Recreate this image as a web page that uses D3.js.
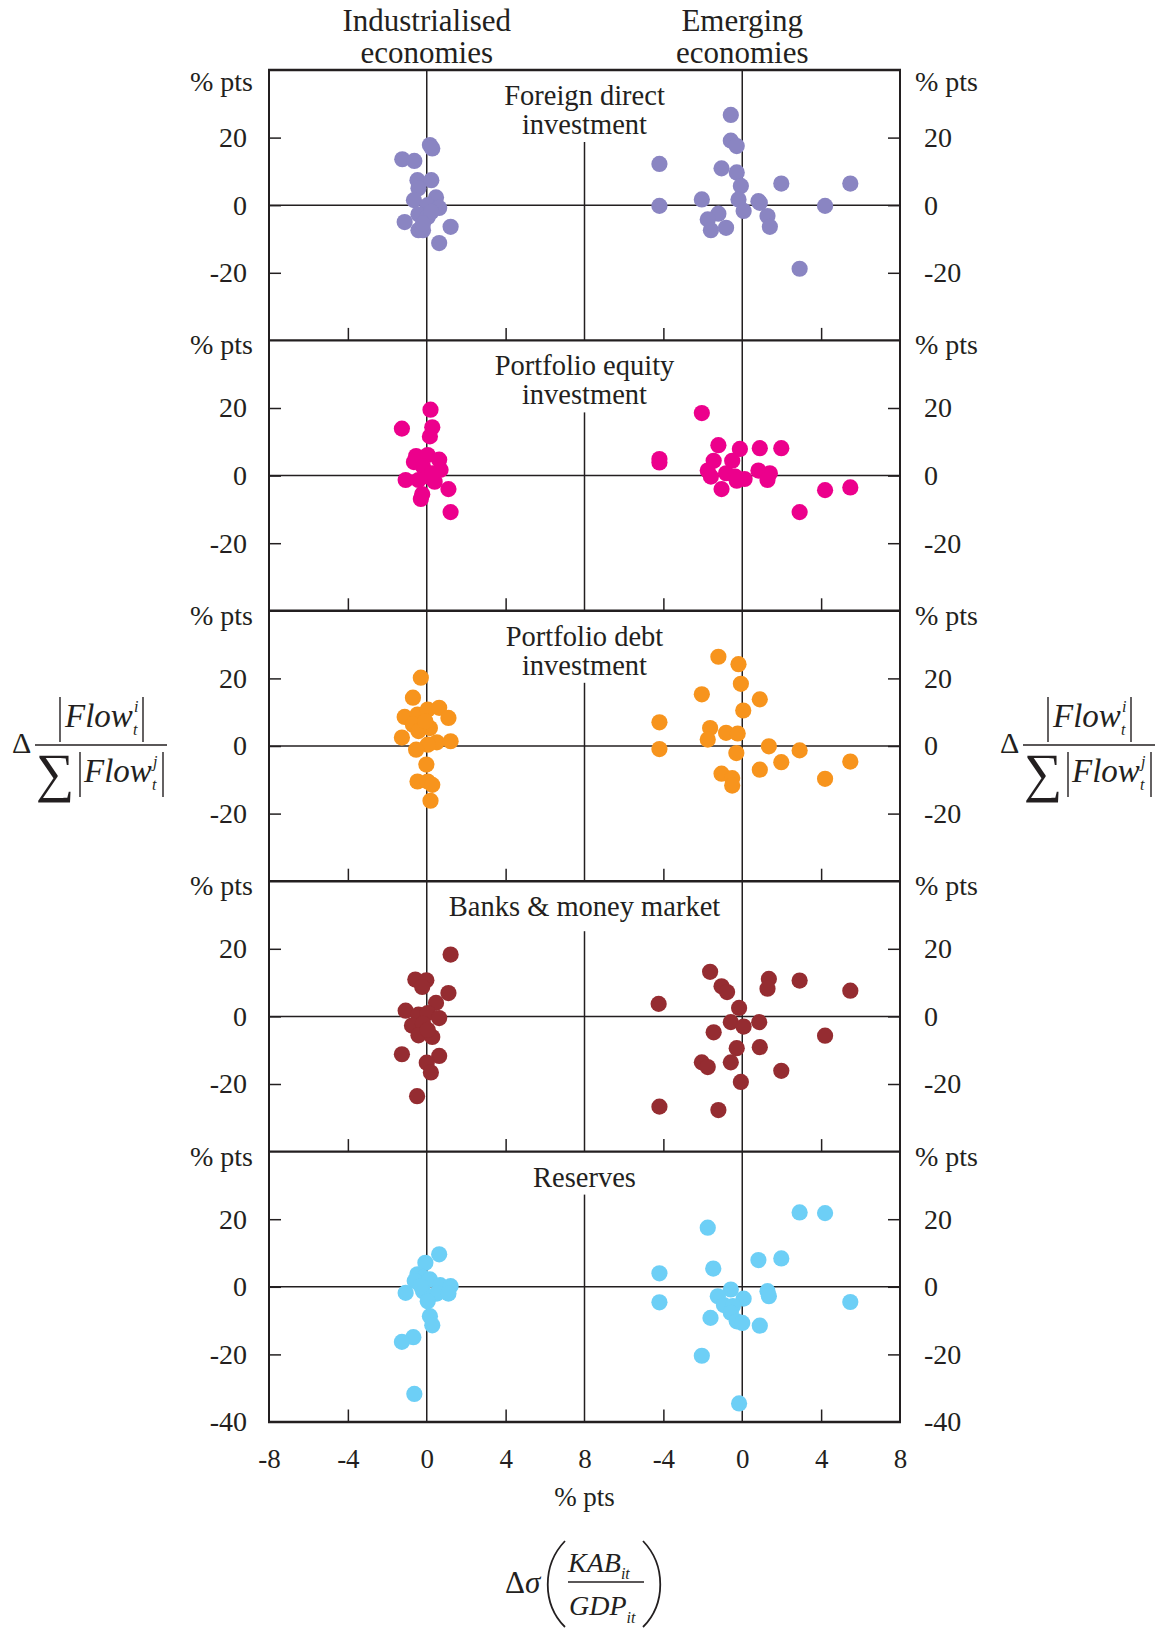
<!DOCTYPE html>
<html>
<head>
<meta charset="utf-8">
<script src="https://cdn.jsdelivr.net/npm/d3@7"></script>
<style>
  html, body { margin: 0; padding: 0; background: #ffffff; }
  svg text { font-family: "Liberation Serif", "Times New Roman", serif; fill: #231f20; }
</style>
</head>
<body>
<svg id="chart" width="1161" height="1628"></svg>
<script>
// ---------------- data ----------------
const columnTitles = [["Industrialised", "economies"], ["Emerging", "economies"]];
const panelTitles = [
  ["Foreign direct", "investment"],
  ["Portfolio equity", "investment"],
  ["Portfolio debt", "investment"],
  ["Banks & money market"],
  ["Reserves"]
];
const panelColors = ["#8a85c2", "#ec008c", "#f7941d", "#952c31", "#6dcff6"];
const xTickLabelsLeft = [-8, -4, 0, 4, 8];
const xTickLabelsRight = [-4, 0, 4, 8];
const xInnerTicks = [-4, 4];
const yTickLabels = [20, 0, -20];
const yTickLabelsBottom = [20, 0, -20, -40];

const fdiIndustrialised = [[-1.24,13.6],[-0.63,13.1],[0.16,17.8],[0.28,16.8],[-0.47,7.4],[0.23,7.4],[-0.42,5.0],[-0.65,1.5],[0.47,2.3],[0.05,0],[0.63,-0.8],[-1.12,-5.0],[-0.42,-2.7],[0.05,-3.5],[-0.42,-7.4],[-0.19,-7.4],[1.21,-6.4],[0.63,-11.2],[0.23,-2.0],[-0.19,-5.4]];
const fdiEmerging = [[-0.58,26.7],[-0.58,19.1],[-0.28,17.5],[-4.2,12.2],[-1.05,10.9],[-0.28,9.7],[-0.07,5.7],[1.98,6.4],[5.48,6.4],[-2.05,1.7],[-0.19,1.7],[0.82,1.2],[0.89,0.7],[-4.2,-0.2],[4.2,-0.2],[0.07,-1.7],[-1.21,-2.5],[-1.75,-4.2],[1.28,-3.2],[-1.59,-7.4],[-0.82,-6.7],[1.4,-6.4],[2.91,-18.8]];
const equityIndustrialised = [[-1.26,13.9],[0.19,19.5],[0.28,14.3],[0.16,11.6],[-0.54,5.8],[0.05,6.1],[-0.65,4.0],[0.63,4.7],[-0.19,2.7],[0.7,1.7],[-1.07,-1.3],[-0.42,-1.3],[0.4,-1.8],[0.05,-0.3],[1.1,-4.0],[-0.23,-5.5],[-0.3,-6.9],[1.21,-10.8],[0.28,0.7]];
const equityEmerging = [[-2.05,18.5],[-4.2,4.9],[-4.2,3.9],[-1.21,9.0],[-0.12,7.9],[0.89,8.1],[1.98,8.1],[-1.45,4.4],[-0.51,4.4],[-1.75,1.5],[-1.59,-0.3],[-0.82,0.7],[-0.35,-0.3],[0.12,-1.0],[0.82,1.5],[1.4,0.7],[1.28,-1.3],[-1.05,-4.0],[4.2,-4.3],[5.48,-3.5],[2.91,-10.8],[-0.28,-1.5]];
const debtIndustrialised = [[-0.3,20.2],[-0.7,14.3],[-1.12,8.6],[-0.47,9.3],[0.05,10.8],[0.63,11.3],[1.1,8.3],[-0.7,6.3],[0.16,5.3],[-0.42,4.4],[-1.26,2.5],[-0.07,7.3],[0.51,1.1],[1.21,1.4],[0.05,0.4],[-0.54,-1.1],[-0.02,-5.5],[-0.47,-10.5],[0.05,-10.5],[0.28,-11.5],[0.19,-16.2]];
const debtEmerging = [[-1.21,26.4],[-0.19,24.2],[-0.07,18.4],[-2.05,15.3],[0.89,13.8],[0.05,10.5],[-4.2,7.0],[-1.63,5.3],[-0.82,3.9],[-0.23,3.7],[-1.75,1.9],[-4.2,-0.9],[1.35,-0.1],[2.91,-1.3],[-0.3,-2.1],[1.98,-4.8],[0.89,-7.0],[5.48,-4.6],[4.2,-9.7],[-1.05,-8.2],[-0.51,-9.5],[-0.51,-11.7]];
const banksIndustrialised = [[1.21,18.3],[-0.58,10.9],[-0.02,10.7],[-0.23,8.7],[1.1,6.9],[0.47,4.0],[-1.07,1.7],[-0.42,0.5],[0.05,1.0],[0.63,-0.5],[-0.75,-2.7],[-0.19,-2.2],[-0.42,-5.6],[0.28,-6.1],[0.05,-4.0],[-1.26,-11.2],[0.63,-11.7],[0,-13.7],[0.21,-16.6],[-0.49,-23.6]];
const banksEmerging = [[-1.63,13.2],[1.35,11.1],[2.91,10.6],[-1.05,8.9],[-0.77,7.2],[1.28,8.2],[5.48,7.6],[-4.24,3.7],[-0.16,2.5],[-0.58,-1.7],[0.07,-3.0],[0.86,-1.7],[-1.45,-4.7],[4.2,-5.7],[-0.28,-9.4],[0.89,-9.1],[-2.05,-13.6],[-1.75,-15.0],[-0.58,-13.6],[1.98,-16.1],[-0.07,-19.4],[-4.2,-26.7],[-1.21,-27.7]];
const reservesIndustrialised = [[0.63,9.6],[-0.07,7.1],[-0.47,3.7],[-0.19,2.7],[0.16,2.2],[-0.61,1.7],[0.68,0.5],[1.21,0.2],[-1.07,-1.8],[0.51,-2.0],[1.1,-2.0],[-0.19,-1.3],[0.05,-4.3],[0.16,-8.7],[0.28,-11.4],[-0.68,-14.9],[-1.26,-16.3],[-0.63,-31.7],[-0.3,0.2]];
const reservesEmerging = [[2.91,22.0],[4.2,21.8],[-1.75,17.5],[1.98,8.4],[0.82,7.9],[-1.47,5.4],[-4.2,4.0],[-4.2,-4.6],[5.48,-4.5],[1.28,-1.3],[1.35,-2.8],[-0.58,-0.8],[-1.24,-2.8],[0.07,-3.5],[-0.93,-5.4],[-0.47,-5.7],[-0.58,-7.7],[-1.61,-9.2],[-0.28,-10.2],[0,-10.7],[0.89,-11.5],[-2.05,-20.4],[-0.16,-34.5]];

const panelData = [
  [fdiIndustrialised, fdiEmerging],
  [equityIndustrialised, equityEmerging],
  [debtIndustrialised, debtEmerging],
  [banksIndustrialised, banksEmerging],
  [reservesIndustrialised, reservesEmerging]
];

// ---------------- layout ----------------
const INK = "#231f20";
const left = 269, mid = 584.5, right = 900;
const top0 = 70, panelH = 270.4;
const svg = d3.select("#chart");

const xScales = [
  d3.scaleLinear().domain([-8, 8]).range([left, mid]),
  d3.scaleLinear().domain([-8, 8]).range([mid, right])
];

function styleAxisText(g, size) {
  g.selectAll("text")
    .attr("font-family", "'Liberation Serif','Times New Roman',serif")
    .attr("font-size", size)
    .attr("fill", INK);
  g.selectAll("line").attr("stroke", INK).attr("stroke-width", 1.5);
  g.select(".domain").remove();
}

// column headers
columnTitles.forEach((lines, c) => {
  const cx = xScales[c](0);
  lines.forEach((t, k) => {
    svg.append("text").attr("x", cx).attr("y", 31 + k * 32)
      .attr("text-anchor", "middle").attr("font-size", 31).text(t);
  });
});

panelTitles.forEach((title, i) => {
  const top = top0 + i * panelH;
  const bottom = top + panelH;
  const y = d3.scaleLinear().domain([-40, 40]).range([bottom, top]);
  const g = svg.append("g");

  // zero lines
  g.append("line").attr("x1", left).attr("x2", right).attr("y1", y(0)).attr("y2", y(0))
    .attr("stroke", INK).attr("stroke-width", 1.5);
  xScales.forEach(xs => {
    g.append("line").attr("x1", xs(0)).attr("x2", xs(0)).attr("y1", top).attr("y2", bottom)
      .attr("stroke", INK).attr("stroke-width", 1.5);
  });
  // middle divider (interrupted by the panel title)
  const gap = title.length === 2 ? 72 : (i === 3 ? 50 : 43);
  g.append("line").attr("x1", mid).attr("x2", mid).attr("y1", top + gap).attr("y2", bottom)
    .attr("stroke", INK).attr("stroke-width", 1.5);

  // inner x ticks at the bottom of each column
  xScales.forEach(xs => {
    const ax = g.append("g").attr("transform", `translate(0,${bottom})`)
      .call(d3.axisBottom(xs).tickValues(xInnerTicks).tickSize(-12.5).tickFormat(""));
    styleAxisText(ax, 27);
  });

  // y axes (left and right), ticks pointing inward
  const yVals = i === 4 ? yTickLabelsBottom : yTickLabels;
  const yl = g.append("g").attr("transform", `translate(${left},0)`)
    .call(d3.axisLeft(y).tickValues(yVals).tickSizeInner(-12).tickSizeOuter(0).tickPadding(22)
      .tickFormat(d => String(d)));
  styleAxisText(yl, 28);
  yl.selectAll(".tick").filter(d => d === -40).select("line").remove();
  const yr = g.append("g").attr("transform", `translate(${right},0)`)
    .call(d3.axisRight(y).tickValues(yVals).tickSizeInner(-12).tickSizeOuter(0).tickPadding(24)
      .tickFormat(d => String(d)));
  styleAxisText(yr, 28);
  yr.selectAll(".tick").filter(d => d === -40).select("line").remove();

  // "% pts" unit labels
  const unitY = top + (i === 0 ? 21 : 14);
  g.append("text").attr("x", 253).attr("y", unitY).attr("text-anchor", "end").attr("font-size", 28).text("% pts");
  g.append("text").attr("x", 915).attr("y", unitY).attr("text-anchor", "start").attr("font-size", 28).text("% pts");

  // points
  panelData[i].forEach((pts, c) => {
    g.append("g").selectAll("circle").data(pts).join("circle")
      .attr("cx", d => xScales[c](d[0]))
      .attr("cy", d => y(d[1]))
      .attr("r", 8.1)
      .attr("fill", panelColors[i]);
  });

  // panel title
  title.forEach((t, k) => {
    g.append("text").attr("x", mid).attr("y", top + 35 + k * 29)
      .attr("text-anchor", "middle").attr("font-size", 28.5).text(t);
  });

  // frame: top separator and side borders
  g.append("line").attr("x1", left - 1).attr("x2", right + 1).attr("y1", top).attr("y2", top)
    .attr("stroke", INK).attr("stroke-width", 2.4);
  g.append("line").attr("x1", left).attr("x2", left).attr("y1", top).attr("y2", bottom)
    .attr("stroke", INK).attr("stroke-width", 2);
  g.append("line").attr("x1", right).attr("x2", right).attr("y1", top).attr("y2", bottom)
    .attr("stroke", INK).attr("stroke-width", 2);
  if (i === 4) {
    g.append("line").attr("x1", left - 1).attr("x2", right + 1).attr("y1", bottom).attr("y2", bottom)
      .attr("stroke", INK).attr("stroke-width", 2.4);
  }
});

// bottom x-axis labels
const bottomY = top0 + 5 * panelH;
const bl = svg.append("g").attr("transform", `translate(0,${bottomY})`)
  .call(d3.axisBottom(xScales[0]).tickValues(xTickLabelsLeft).tickSize(0).tickPadding(27).tickFormat(d => String(d)));
styleAxisText(bl, 27);
const br = svg.append("g").attr("transform", `translate(0,${bottomY})`)
  .call(d3.axisBottom(xScales[1]).tickValues(xTickLabelsRight).tickSize(0).tickPadding(27).tickFormat(d => String(d)));
styleAxisText(br, 27);

svg.append("text").attr("x", mid).attr("y", 1506).attr("text-anchor", "middle").attr("font-size", 27).text("% pts");

// y-axis formula labels: Δ |Flow_t^i| / Σ|Flow_t^j|
function flowLabel(x0, y0) {
  const g = svg.append("g").attr("transform", `translate(${x0},${y0})`);
  const line = (x1, y1, x2, y2, w) => g.append("line").attr("x1", x1).attr("y1", y1).attr("x2", x2).attr("y2", y2)
    .attr("stroke", INK).attr("stroke-width", w);
  g.append("text").attr("x", 0).attr("y", 8).attr("font-size", 30).text("Δ");
  line(23, 0, 155, 0, 1.4);
  // numerator
  line(48, -48, 48, -3, 1.4);
  line(131, -48, 131, -3, 1.4);
  g.append("text").attr("x", 53).attr("y", -18).attr("font-size", 33).attr("font-style", "italic").text("Flow");
  g.append("text").attr("x", 122).attr("y", -33).attr("font-size", 16).attr("font-style", "italic").text("i");
  g.append("text").attr("x", 121).attr("y", -10).attr("font-size", 16).attr("font-style", "italic").text("t");
  // denominator
  g.append("text").attr("x", 24).attr("y", 46).attr("font-size", 54).text("∑");
  line(68, 7, 68, 52, 1.4);
  line(151, 7, 151, 52, 1.4);
  g.append("text").attr("x", 72).attr("y", 37).attr("font-size", 33).attr("font-style", "italic").text("Flow");
  g.append("text").attr("x", 141).attr("y", 22).attr("font-size", 16).attr("font-style", "italic").text("j");
  g.append("text").attr("x", 140).attr("y", 45).attr("font-size", 16).attr("font-style", "italic").text("t");
}
flowLabel(12, 745);
flowLabel(1000, 745);

// x-axis formula: Δσ(KAB_it / GDP_it)
(function () {
  const g = svg.append("g");
  const t = g.append("text").attr("x", 505).attr("y", 1593).attr("font-size", 31);
  t.append("tspan").text("Δ");
  t.append("tspan").attr("font-style", "italic").text("σ");
  g.append("path").attr("d", "M565,1541 C542,1565 542,1604 565,1627")
    .attr("fill", "none").attr("stroke", INK).attr("stroke-width", 1.8);
  g.append("path").attr("d", "M643,1541 C666,1565 666,1604 643,1627")
    .attr("fill", "none").attr("stroke", INK).attr("stroke-width", 1.8);
  g.append("line").attr("x1", 568).attr("x2", 644).attr("y1", 1582).attr("y2", 1582)
    .attr("stroke", INK).attr("stroke-width", 1.4);
  const n = g.append("text").attr("x", 568).attr("y", 1572).attr("font-size", 28).attr("font-style", "italic");
  n.append("tspan").text("KAB");
  n.append("tspan").attr("font-size", 16).attr("dy", 7).text("it");
  const d = g.append("text").attr("x", 569).attr("y", 1615).attr("font-size", 28).attr("font-style", "italic");
  d.append("tspan").text("GDP");
  d.append("tspan").attr("font-size", 16).attr("dy", 8).text("it");
})();
</script>
</body>
</html>
